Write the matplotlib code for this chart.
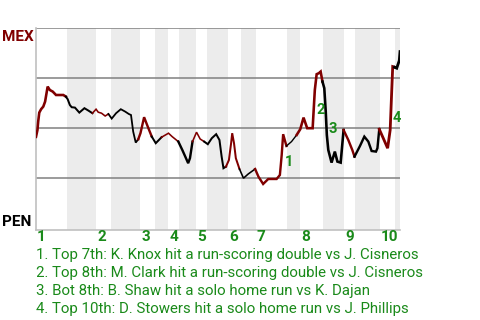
import numpy as np
import matplotlib.pyplot as plt

plt.rcParams['font.family'] = ['Roboto', 'DejaVu Sans']

# === DATA ===
# game progress (0-100) where each half-inning starts: top 1st, bot 1st, top 2nd, ...
half_starts = [0, 8.5, 16.5, 20.6, 28.6, 32.7, 36.3, 39.3, 44.0, 47.0,
               52.7, 56.3, 60.4, 69.0, 72.5, 78.8, 84.6, 87.6, 94.5, 98.6]
game_end = 100
innings = ['1', '2', '3', '4', '5', '6', '7', '8', '9', '10']

# MEX win probability (%) along the game
progress = [0, 0.4, 0.6, 0.9, 1.4, 2.0, 2.5, 3.2, 3.8, 4.6, 5.5, 7.5, 8.2,
            8.7, 9.3, 9.8, 10.7, 11.9, 13.3, 14.4, 15.5,
            16.5, 17.1, 18.0, 19.0, 19.9,
            20.8, 22.0, 23.3, 24.5, 25.5, 26.1, 26.7, 27.4, 28.1,
            28.7, 29.7, 30.7, 31.8,
            32.9, 34.5,
            36.4, 37.4, 39.1,
            40.2, 41.2, 41.8, 42.3, 43.0,
            44.1, 45.1, 46.2,
            47.2, 48.3, 49.5, 50.4, 51.0, 51.5, 52.2,
            53.0, 53.6, 53.9, 54.4, 54.9, 55.9,
            57.0, 58.3, 60.2,
            61.1, 62.4, 63.8, 66.1, 67.0, 67.5, 67.9, 68.8,
            70.2, 71.6,
            72.6, 73.5, 74.5, 76.0, 76.6, 77.1, 77.7, 78.2, 78.7,
            79.2, 79.6, 79.9, 80.3, 81.2, 82.1, 82.8, 83.7, 84.5,
            85.8, 86.9, 87.5,
            89.0, 90.2, 91.3, 92.2, 93.4, 93.8, 94.3,
            95.4, 96.6, 97.3, 97.7, 98.0, 98.5,
            99.1, 99.8, 100]
mex_wp = [45.6, 49.0, 53.2, 57.7, 59.4, 60.7, 63.2, 70.7, 69.0, 68.2, 66.5, 66.5, 65.7,
          64.4, 61.5, 60.4, 60.2, 57.7, 59.9, 58.7, 57.4,
          59.4, 57.9, 57.4, 56.0, 57.0,
          54.7, 57.4, 59.4, 58.2, 57.0, 56.5, 48.2, 42.7, 44.4,
          47.4, 55.4, 50.7, 45.7,
          42.4, 45.4,
          47.4, 45.7, 43.2,
          39.0, 34.9, 32.4, 34.9, 43.2,
          47.9, 44.5, 43.2,
          41.9, 44.9, 46.9, 44.0, 35.7, 29.9, 30.7,
          34.0, 42.4, 47.4, 42.4, 34.9, 29.5,
          24.9, 27.0, 29.5,
          25.7, 22.0, 24.5, 24.5, 26.5, 36.5, 46.9, 41.0,
          43.2, 46.5,
          49.4, 55.2, 49.9, 49.9, 69.0, 76.9, 77.4, 78.2, 73.2,
          69.9, 58.2, 46.5, 39.0, 32.7, 38.2, 33.2, 32.7, 49.0,
          44.0, 39.0, 35.7,
          41.0, 45.7, 43.2, 38.5, 38.2, 39.9, 49.4,
          44.9, 39.9, 49.0, 67.4, 80.7, 80.4,
          79.9, 83.7, 88.2]

# key plays
event_x = [68.0, 76.6, 79.9, 97.7]
event_wp = [33.5, 59.5, 50.4, 55.7]
event_text = [
    "1. Top 7th: K. Knox hit a run-scoring double vs J. Cisneros",
    "2. Top 8th: M. Clark hit a run-scoring double vs J. Cisneros",
    "3. Bot 8th: B. Shaw hit a solo home run vs K. Dajan",
    "4. Top 10th: D. Stowers hit a solo home run vs J. Phillips",
]

# === STYLE ===
red = '#800000'
green = '#1a8a1a'
band = '#ececec'
# line width (px) per half-inning
half_lw = [2.6, 2.0, 1.6, 1.8, 2.4, 2.0, 1.6, 2.4, 1.6, 2.0,
           2.0, 1.6, 2.4, 1.4, 2.6, 2.6, 2.4, 2.4, 2.8, 2.8]

W, H = 480, 320
fig = plt.figure(figsize=(W / 100, H / 100), dpi=100)
ax = fig.add_axes([36 / W, 1 - 230 / H, 364 / W, 202 / H])
ax.set_xlim(0, game_end)
ax.set_ylim(-1, 100)

bounds = half_starts + [game_end]
for i in range(1, len(half_starts), 2):
    ax.axvspan(bounds[i], bounds[i + 1], color=band, lw=0, zorder=0)

for yv in [25, 50, 75, 100]:
    ax.axhline(yv, color='#808080', lw=1.1, zorder=1)

x = np.array(progress)
y = np.array(mex_wp)
half_idx = np.searchsorted(half_starts, x, side='right') - 1
for h in range(len(half_starts)):
    idx = np.where(half_idx == h)[0]
    if len(idx) == 0:
        continue
    if idx[0] > 0:
        idx = np.concatenate([[idx[0] - 1], idx])
    ax.plot(x[idx], y[idx], color=red if h % 2 == 0 else 'black',
            lw=half_lw[h] * 0.72, solid_joinstyle='miter', zorder=3)

for n, (ex, ey) in enumerate(zip(event_x, event_wp)):
    ax.annotate(str(n + 1), (ex, ey), xytext=(1, 0), textcoords='offset points',
                ha='left', va='center_baseline', color=green,
                fontsize=10.5, fontweight='bold', zorder=4)

for sp in ['top', 'right']:
    ax.spines[sp].set_visible(False)
for sp in ['left', 'bottom']:
    ax.spines[sp].set_color('#c0c0c0')
    ax.spines[sp].set_linewidth(1.2)
ax.set_xticks([])
ax.set_yticks([])

# inning numbers at the start of each inning
for k, lab in enumerate(innings):
    px = half_starts[2 * k]
    ax.text(px + 0.3, -1, lab, transform=ax.transData, ha='left', va='top',
            color=green, fontsize=11, fontweight='bold')

fig.text(2 / W, 1 - 41 / H, 'MEX', color=red, fontsize=11, fontweight='bold',
         ha='left', va='baseline')
fig.text(2 / W, 1 - 226 / H, 'PEN', color='black', fontsize=11, fontweight='bold',
         ha='left', va='baseline')

for j, t in enumerate(event_text):
    fig.text(36 / W, 1 - (259 + 18 * j) / H, t, color=green, fontsize=10.8,
             ha='left', va='baseline')

fig.savefig('out.png', dpi=100)
